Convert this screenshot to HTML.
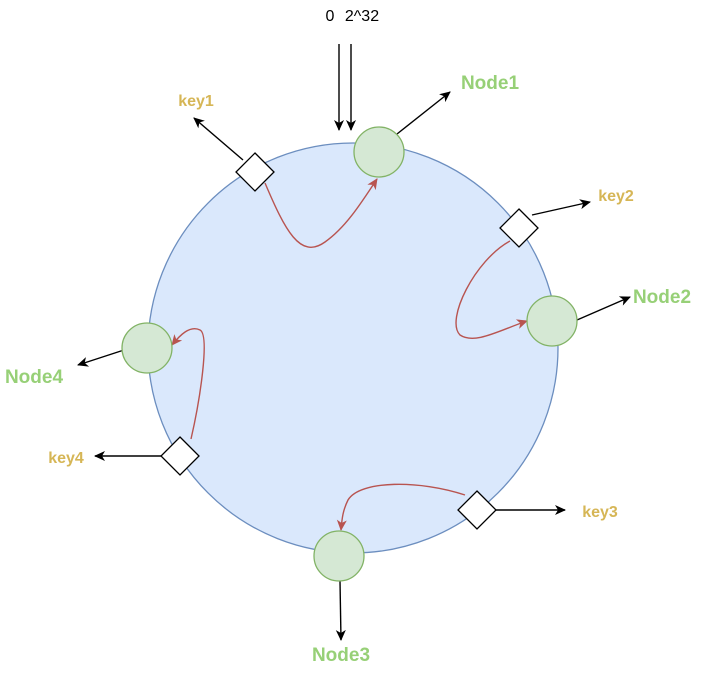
<!DOCTYPE html>
<html><head><style>body{margin:0;background:#fff}svg{display:block}</style></head><body>
<svg width="705" height="676" viewBox="0 0 705 676" xmlns="http://www.w3.org/2000/svg" font-family="Liberation Sans, sans-serif">
<defs>
<marker id="a" markerWidth="12" markerHeight="12" refX="10" refY="6" orient="auto" markerUnits="userSpaceOnUse"><path d="M0,1 L11,6 L0,11 L3,6 Z" fill="#000"/></marker>
<marker id="r" markerWidth="12" markerHeight="12" refX="10" refY="6" orient="auto" markerUnits="userSpaceOnUse"><path d="M0,1 L11,6 L0,11 L3,6 Z" fill="#b85450"/></marker>
</defs>
<circle cx="353" cy="348" r="205" fill="#dae8fc" stroke="#6c8ebf" stroke-width="1.3"/>
<text x="330" y="21" font-size="16" text-anchor="middle">0</text>
<text x="362" y="21" font-size="16" text-anchor="middle">2^32</text>
<g stroke="#000" stroke-width="1.4" fill="none">
<line x1="339" y1="44" x2="339" y2="130" marker-end="url(#a)"/>
<line x1="351" y1="44" x2="351" y2="130" marker-end="url(#a)"/>
<line x1="397" y1="134" x2="450" y2="92" marker-end="url(#a)"/>
<line x1="243" y1="160" x2="194" y2="118" marker-end="url(#a)"/>
<line x1="532" y1="215" x2="590" y2="202" marker-end="url(#a)"/>
<line x1="577" y1="320" x2="630" y2="297" marker-end="url(#a)"/>
<line x1="124" y1="350" x2="78" y2="365" marker-end="url(#a)"/>
<line x1="162" y1="456" x2="95" y2="456" marker-end="url(#a)"/>
<line x1="494" y1="510" x2="565" y2="510" marker-end="url(#a)"/>
<line x1="340" y1="581" x2="341" y2="640" marker-end="url(#a)"/>
</g>
<g stroke="#b85450" stroke-width="1.4" fill="none">
<path d="M265,183 C285,230 300,260 325,242 C345,228 360,205 377,179" marker-end="url(#r)"/>
<path d="M510,241 C475,260 445,320 460,335 C475,345 500,330 527,321" marker-end="url(#r)"/>
<path d="M465,495 C420,480 360,480 348,500 C343,510 342,518 341,530" marker-end="url(#r)"/>
<path d="M191,439 C200,400 210,335 200,330 C190,325 180,335 172,345" marker-end="url(#r)"/>
</g>
<g fill="#d5e8d4" stroke="#82b366" stroke-width="1.3">
<circle cx="379" cy="152" r="25"/>
<circle cx="552" cy="321" r="25"/>
<circle cx="339" cy="556" r="25"/>
<circle cx="147" cy="348" r="25"/>
</g>
<g fill="#fff" stroke="#000" stroke-width="1.3">
<path d="M255,153 L274,172 L255,191 L236,172 Z"/>
<path d="M519,209 L538,228 L519,247 L500,228 Z"/>
<path d="M477,491 L496,510 L477,529 L458,510 Z"/>
<path d="M180,437 L199,456 L180,475 L161,456 Z"/>
</g>
<g font-weight="bold" fill="#97d077" text-anchor="middle">
<text x="490" y="89" font-size="19">Node1</text>
<text x="662" y="303" font-size="19">Node2</text>
<text x="341" y="661" font-size="19">Node3</text>
<text x="34" y="383" font-size="19">Node4</text>
</g>
<g font-weight="bold" fill="#d6b656" text-anchor="middle">
<text x="196" y="106" font-size="16">key1</text>
<text x="616" y="201" font-size="16">key2</text>
<text x="600" y="517" font-size="16">key3</text>
<text x="66" y="463" font-size="16">key4</text>
</g>
</svg>
</body></html>
